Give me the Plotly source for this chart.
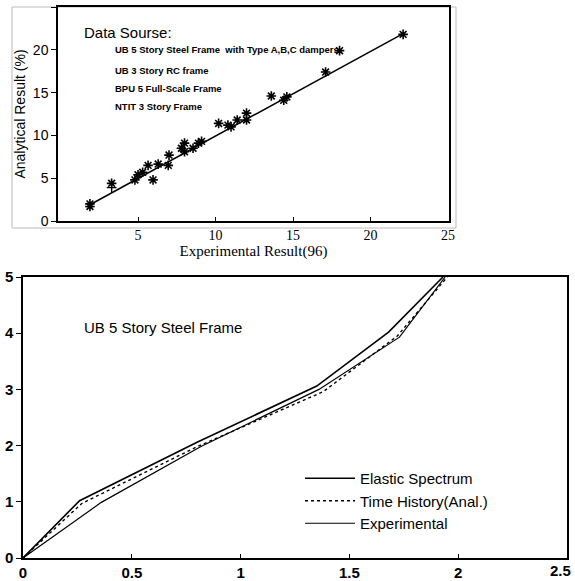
import plotly.graph_objects as go

# ---------- Top chart data ----------
exp_result = [1.9, 1.9, 3.3, 4.8, 5.0, 5.3, 5.65, 5.97, 6.3, 7.0, 6.95, 7.8, 8.0, 8.0, 8.55,
              8.9, 9.1, 10.2, 10.8, 11.0, 11.4, 12.0, 12.0, 13.6, 14.4, 14.6, 17.1, 18.0, 22.1]
ana_result = [2.0, 1.7, 4.4, 4.8, 5.4, 5.7, 6.5, 4.8, 6.65, 7.7, 6.5, 8.5, 9.1, 8.1, 8.5,
              9.1, 9.3, 11.4, 11.2, 11.0, 11.8, 12.6, 11.8, 14.6, 14.1, 14.5, 17.4, 19.9, 21.8]
plus_x = [3.3]
plus_y = [3.9]
fit_x = [1.9, 22.1]
fit_y = [1.9, 21.9]
top_xticks = [5, 10, 15, 20, 25]
top_yticks = [0, 5, 10, 15, 20, 25]
sources = ["UB 5 Story Steel Frame\u00a0\u00a0with Type A,B,C dampers",
           "UB 3 Story RC frame",
           "BPU 5 Full-Scale Frame",
           "NTIT 3 Story Frame"]
source_y = [20.0, 17.6, 15.5, 13.4]

# ---------- Bottom chart data ----------
elastic_x = [0, 0.26, 0.80, 1.35, 1.68, 1.93]
elastic_y = [0, 1.02, 2.06, 3.06, 4.02, 5.0]
time_x = [0, 0.27, 0.80, 1.38, 1.72, 1.95]
time_y = [0, 0.97, 1.98, 2.96, 3.95, 5.0]
expt_x = [0, 0.36, 0.82, 1.36, 1.73, 1.94]
expt_y = [0, 0.99, 1.99, 3.0, 3.93, 5.0]
bot_xticks = [0, 0.5, 1, 1.5, 2]
bot_xlabels = ["0", "0.5", "1", "1.5", "2"]
bot_last_tick = 2.5
bot_yticks = [0, 1, 2, 3, 4, 5]

W, H = 575, 581
def px(x0, x1):
    return [x0 / W, x1 / W]
def py(top, bottom):
    return [1 - bottom / H, 1 - top / H]

fig = go.Figure()

fig.add_trace(go.Scatter(x=fit_x, y=fit_y, mode="lines", line=dict(color="black", width=1.5),
                         xaxis="x", yaxis="y", showlegend=False))
fig.add_trace(go.Scatter(x=exp_result, y=ana_result, mode="markers",
                         marker=dict(symbol="asterisk-open", size=8, color="black",
                                     line=dict(color="black", width=1.6)),
                         xaxis="x", yaxis="y", showlegend=False))
fig.add_trace(go.Scatter(x=plus_x, y=plus_y, mode="markers",
                         marker=dict(symbol="cross-thin-open", size=7, color="black",
                                     line=dict(color="black", width=1.4)),
                         xaxis="x", yaxis="y", showlegend=False))

fig.add_trace(go.Scatter(x=elastic_x, y=elastic_y, mode="lines", name="Elastic Spectrum",
                         line=dict(color="black", width=1.6), xaxis="x2", yaxis="y2"))
fig.add_trace(go.Scatter(x=time_x, y=time_y, mode="lines", name="Time History(Anal.)",
                         line=dict(color="black", width=1.4, dash="dot"), xaxis="x2", yaxis="y2"))
fig.add_trace(go.Scatter(x=expt_x, y=expt_y, mode="lines", name="Experimental",
                         line=dict(color="black", width=1.2), xaxis="x2", yaxis="y2"))

annotations = [
    dict(x=1.4, y=22.0, xref="x", yref="y", text="Data Sourse:", showarrow=False,
         xanchor="left", yanchor="middle", font=dict(family="Arial", size=15, color="black")),
]
for s, yv in zip(sources, source_y):
    annotations.append(dict(x=3.4, y=yv, xref="x", yref="y", text=s, showarrow=False,
                            xanchor="left", yanchor="middle",
                            font=dict(family="Arial", size=9.5, color="black", weight="bold")))
annotations.append(dict(x=0.27, y=4.1, xref="x2", yref="y2", text="UB 5 Story Steel Frame",
                        showarrow=False, xanchor="left", yanchor="middle",
                        font=dict(family="Arial", size=15, color="black")))
# last bottom tick label, kept inside the page edge
annotations.append(dict(x=bot_last_tick, y=0, xref="x2", yref="y2", text="2.5",
                        showarrow=False, xanchor="center", yanchor="top", yshift=-3, xshift=-7,
                        borderpad=0,
                        font=dict(family="Arial", size=15, color="black", weight="bold")))

fig.update_layout(
    width=W, height=H, margin=dict(l=0, r=0, t=0, b=0),
    paper_bgcolor="white", plot_bgcolor="white",
    xaxis=dict(domain=px(58, 449), range=[-0.16, 25.06], tickvals=top_xticks, anchor="y",
               automargin=False,
               showline=True, mirror=True, linecolor="black", linewidth=1.5,
               ticks="inside", ticklen=4, tickcolor="black", showgrid=False, zeroline=False,
               tickfont=dict(family="Liberation Serif", size=14, color="black"),
               title=dict(text="Experimental Result(96)", standoff=2,
                          font=dict(family="Liberation Serif", size=15, color="black"))),
    yaxis=dict(domain=py(7, 221), range=[0, 25], tickvals=top_yticks, anchor="x",
               automargin=False,
               showline=True, mirror=True, linecolor="black", linewidth=1.5,
               ticks="outside", ticklen=5, tickcolor="black", showgrid=False, zeroline=False,
               tickfont=dict(family="Arial", size=14, color="black"),
               title=dict(text="Analytical Result (%)", standoff=4,
                          font=dict(family="Arial", size=14, color="black"))),
    xaxis2=dict(domain=px(23, 567), range=[0, 2.5], tickvals=bot_xticks + [bot_last_tick],
                ticktext=bot_xlabels + [""],
                anchor="y2", automargin=False,
                showline=True, mirror=True, linecolor="black", linewidth=1.5,
                ticks="inside", ticklen=4, tickcolor="black", showgrid=False, zeroline=False,
                tickfont=dict(family="Arial", size=15, color="black", weight="bold")),
    yaxis2=dict(domain=py(277, 558), range=[0, 5], tickvals=bot_yticks, anchor="x2",
                automargin=False,
                showline=True, mirror=True, linecolor="black", linewidth=1.5,
                ticks="outside", ticklen=5, tickcolor="black", showgrid=False, zeroline=False,
                tickfont=dict(family="Arial", size=15, color="black", weight="bold")),
    legend=dict(x=300 / W, y=1 - 462 / H, xanchor="left", yanchor="top",
                bgcolor="rgba(0,0,0,0)", borderwidth=0, itemwidth=50, tracegroupgap=0,
                font=dict(family="Arial", size=15, color="black")),
    annotations=annotations,
    shapes=[dict(type="rect", xref="paper", yref="paper", x0=12 / W, x1=456 / W,
                 y0=1 - 228 / H, y1=1 - 7 / H, line=dict(color="#bbbbbb", width=1), layer="below")],
)

fig.write_html("out.html", config={"displayModeBar": False},
               post_script="document.body.style.margin='0';document.body.style.overflow='hidden';")
